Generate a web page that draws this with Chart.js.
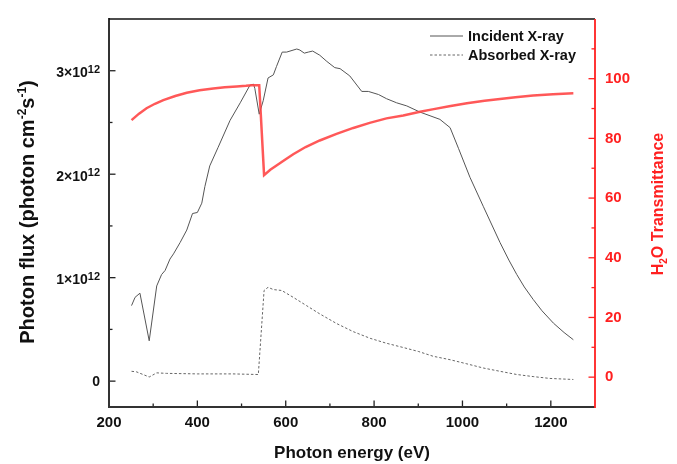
<!DOCTYPE html>
<html>
<head>
<meta charset="utf-8">
<script src="https://cdn.jsdelivr.net/npm/chart.js@4"></script>
<style>
  body { margin: 0; background: #fff; }
</style>
</head>
<body>
<canvas id="flux_chart" width="677" height="464"></canvas>
<script>
// photon energy (eV) and flux (units of 10^12 photon cm-2 s-1)
const incidentEnergy = [251, 259, 270, 291, 308, 319, 327, 338, 346, 361, 376, 389, 400, 410, 417, 428, 447, 474, 497, 519, 527, 530, 540, 549, 560, 572, 579, 592, 602, 625, 632, 642, 651, 661, 677, 693, 711, 723, 745, 772, 787, 810, 828, 851, 874, 904, 949, 972, 991, 1017, 1047, 1085, 1105, 1123, 1140, 1160, 1180, 1206, 1230, 1251];
const incidentFlux = [0.73, 0.81, 0.85, 0.39, 0.92, 1.03, 1.07, 1.18, 1.23, 1.34, 1.46, 1.62, 1.63, 1.72, 1.88, 2.08, 2.26, 2.52, 2.69, 2.86, 2.87, 2.83, 2.58, 2.71, 2.93, 2.96, 3.04, 3.18, 3.18, 3.21, 3.20, 3.17, 3.18, 3.19, 3.15, 3.09, 3.03, 3.02, 2.95, 2.80, 2.80, 2.77, 2.73, 2.69, 2.66, 2.60, 2.53, 2.45, 2.25, 1.97, 1.69, 1.34, 1.17, 1.03, 0.91, 0.79, 0.68, 0.56, 0.47, 0.40];

const absorbedEnergy = [251, 262, 291, 308, 330, 400, 480, 538, 551, 560, 572, 591, 617, 647, 677, 715, 753, 791, 828, 866, 900, 934, 972, 1010, 1047, 1085, 1123, 1160, 1198, 1251];
const absorbedFlux = [0.095, 0.09, 0.04, 0.08, 0.075, 0.07, 0.07, 0.064, 0.876, 0.907, 0.885, 0.876, 0.81, 0.73, 0.65, 0.557, 0.478, 0.414, 0.366, 0.325, 0.287, 0.24, 0.207, 0.167, 0.127, 0.095, 0.064, 0.044, 0.026, 0.016];

// H2O transmittance (%)
const transEnergy = [251, 268, 285, 304, 323, 350, 376, 405, 436, 462, 489, 510, 523, 540, 551, 565, 580, 600, 617, 645, 677, 715, 753, 790, 828, 866, 904, 935, 970, 1010, 1050, 1085, 1120, 1160, 1205, 1251];
const transValue = [86.1, 88.3, 90.1, 91.6, 92.8, 94.2, 95.3, 96.1, 96.7, 97.1, 97.4, 97.6, 97.8, 97.8, 67.7, 69.5, 71.0, 73.0, 74.7, 77.1, 79.3, 81.5, 83.5, 85.2, 86.7, 87.7, 88.9, 89.8, 90.8, 91.8, 92.6, 93.2, 93.8, 94.4, 94.8, 95.1];

// ticks
const energyTicks = [200, 400, 600, 800, 1000, 1200];
const energyMinor = [300, 500, 700, 900, 1100];
const fluxTicks = [0, 1, 2, 3];
const fluxMinor = [0.5, 1.5, 2.5];
const transTicks = [0, 20, 40, 60, 80, 100];
const transMinor = [10, 30, 50, 70, 90, 110];

const FONT = '"Liberation Sans", Arial, sans-serif';
const RED = '#ff2020';

const pts = (xs, ys) => xs.map((x, i) => ({ x: x, y: ys[i] }));

function drawRich(ctx, parts, cx, cy, rot) {
  ctx.save();
  ctx.translate(cx, cy);
  ctx.rotate(rot);
  let total = 0;
  parts.forEach(p => { ctx.font = 'bold ' + p.size + 'px ' + FONT; total += ctx.measureText(p.text).width; });
  let pos = -total / 2;
  ctx.textBaseline = 'alphabetic';
  ctx.textAlign = 'left';
  parts.forEach(p => {
    ctx.font = 'bold ' + p.size + 'px ' + FONT;
    ctx.fillText(p.text, pos, p.dy || 0);
    pos += ctx.measureText(p.text).width;
  });
  ctx.restore();
}

const frame = {
  id: 'frame',
  afterDraw(chart) {
    const { ctx, chartArea: a, scales } = chart;
    const sx = scales.x, sl = scales.yFlux, sr = scales.yTrans;
    ctx.save();
    const line = (x1, y1, x2, y2) => { ctx.beginPath(); ctx.moveTo(x1, y1); ctx.lineTo(x2, y2); ctx.stroke(); };

    // black ticks, pointing inward
    ctx.strokeStyle = '#222';
    ctx.lineWidth = 1.3;
    energyTicks.forEach(v => { const p = sx.getPixelForValue(v); line(p, a.bottom, p, a.bottom - 6.5); });
    energyMinor.forEach(v => { const p = sx.getPixelForValue(v); line(p, a.bottom, p, a.bottom - 3.5); });
    fluxTicks.forEach(v => { const p = sl.getPixelForValue(v); line(a.left, p, a.left + 6.5, p); });
    fluxMinor.forEach(v => { const p = sl.getPixelForValue(v); line(a.left, p, a.left + 3.5, p); });

    // flux tick labels with a real superscript exponent
    ctx.fillStyle = '#111';
    ctx.textAlign = 'right';
    ctx.textBaseline = 'alphabetic';
    fluxTicks.forEach(v => {
      const p = sl.getPixelForValue(v);
      if (v === 0) {
        ctx.font = 'bold 14px ' + FONT;
        ctx.fillText('0', 100, p + 5);
        return;
      }
      ctx.font = 'bold 11px ' + FONT;
      const w = ctx.measureText('12').width;
      ctx.fillText('12', 100, p + 2);
      ctx.font = 'bold 14px ' + FONT;
      ctx.fillText(v + '×10', 100 - w, p + 6.5);
    });

    // spines
    ctx.lineWidth = 2;
    ctx.strokeStyle = '#333';
    line(a.left, a.top - 1, a.left, a.bottom + 1);
    line(a.left - 1, a.bottom, a.right, a.bottom);
    ctx.lineWidth = 1.5;
    ctx.strokeStyle = '#111';
    line(a.left, a.top, a.right, a.top);

    ctx.strokeStyle = RED;
    ctx.lineWidth = 1.3;
    transTicks.forEach(v => { const p = sr.getPixelForValue(v); line(a.right, p, a.right - 6.5, p); });
    transMinor.forEach(v => { const p = sr.getPixelForValue(v); line(a.right, p, a.right - 3.5, p); });
    ctx.lineWidth = 1.8;
    line(a.right, a.top, a.right, a.bottom + 1);

    // axis titles
    ctx.fillStyle = '#111';
    drawRich(ctx, [
      { text: 'Photon flux (photon cm', size: 20 },
      { text: '-2', size: 12, dy: -8 },
      { text: 's', size: 20 },
      { text: '-1', size: 12, dy: -8 },
      { text: ')', size: 20 }
    ], 33.5, 212, -Math.PI / 2);
    drawRich(ctx, [{ text: 'Photon energy (eV)', size: 17 }], (a.left + a.right) / 2, 458, 0);
    ctx.fillStyle = RED;
    drawRich(ctx, [
      { text: 'H', size: 16 },
      { text: '2', size: 10, dy: 4 },
      { text: 'O Transmittance', size: 16 }
    ], 663, 204, -Math.PI / 2);

    // legend
    const items = [chart.data.datasets[1], chart.data.datasets[2]];
    ctx.font = 'bold 14.5px ' + FONT;
    ctx.textAlign = 'left';
    ctx.textBaseline = 'middle';
    ctx.fillStyle = '#111';
    items.forEach((ds, i) => {
      const y = 36 + i * 19;
      ctx.strokeStyle = ds.borderColor;
      ctx.lineWidth = ds.borderWidth;
      ctx.setLineDash(ds.borderDash || []);
      line(430, y, 463, y);
      ctx.setLineDash([]);
      ctx.fillText(ds.label, 468, y + 1);
    });
    ctx.restore();
  }
};

const ctx = document.getElementById('flux_chart');

new Chart(ctx, {
  type: 'line',
  data: {
    datasets: [
      {
        label: 'H2O Transmittance',
        data: pts(transEnergy, transValue),
        yAxisID: 'yTrans',
        borderColor: 'rgba(255, 70, 70, 0.9)',
        borderWidth: 2.5,
        pointRadius: 0
      },
      {
        label: 'Incident X-ray',
        data: pts(incidentEnergy, incidentFlux),
        yAxisID: 'yFlux',
        borderColor: '#555',
        borderWidth: 1,
        pointRadius: 0
      },
      {
        label: 'Absorbed X-ray',
        data: pts(absorbedEnergy, absorbedFlux),
        yAxisID: 'yFlux',
        borderColor: '#666',
        borderWidth: 1,
        borderDash: [2.5, 2],
        pointRadius: 0
      }
    ]
  },
  options: {
    responsive: false,
    animation: false,
    devicePixelRatio: 1,
    layout: { padding: { top: 14, left: 0, right: 0, bottom: 0 } },
    plugins: { legend: { display: false }, tooltip: { enabled: false } },
    scales: {
      x: {
        type: 'linear',
        min: 200,
        max: 1300,
        grid: { display: false, drawTicks: false },
        border: { display: false },
        afterBuildTicks: s => { s.ticks = energyTicks.map(v => ({ value: v })); },
        afterFit: s => { s.height = 57; },
        ticks: {
          padding: 7,
          color: '#111',
          font: { family: FONT, size: 15, weight: 'bold' },
          maxRotation: 0,
          callback: v => String(v)
        }
      },
      yFlux: {
        position: 'left',
        min: -0.25,
        max: 3.5,
        grid: { display: false, drawTicks: false },
        border: { display: false },
        afterBuildTicks: s => { s.ticks = fluxTicks.map(v => ({ value: v })); },
        afterFit: s => { s.width = 109; },
        ticks: { display: false }
      },
      yTrans: {
        position: 'right',
        min: -10,
        max: 120,
        grid: { display: false, drawTicks: false },
        border: { display: false },
        afterBuildTicks: s => { s.ticks = transTicks.map(v => ({ value: v })); },
        afterFit: s => { s.width = 82; },
        ticks: { padding: 10, color: RED, font: { family: FONT, size: 15, weight: 'bold' } }
      }
    }
  },
  plugins: [frame]
});
</script>
</body>
</html>
